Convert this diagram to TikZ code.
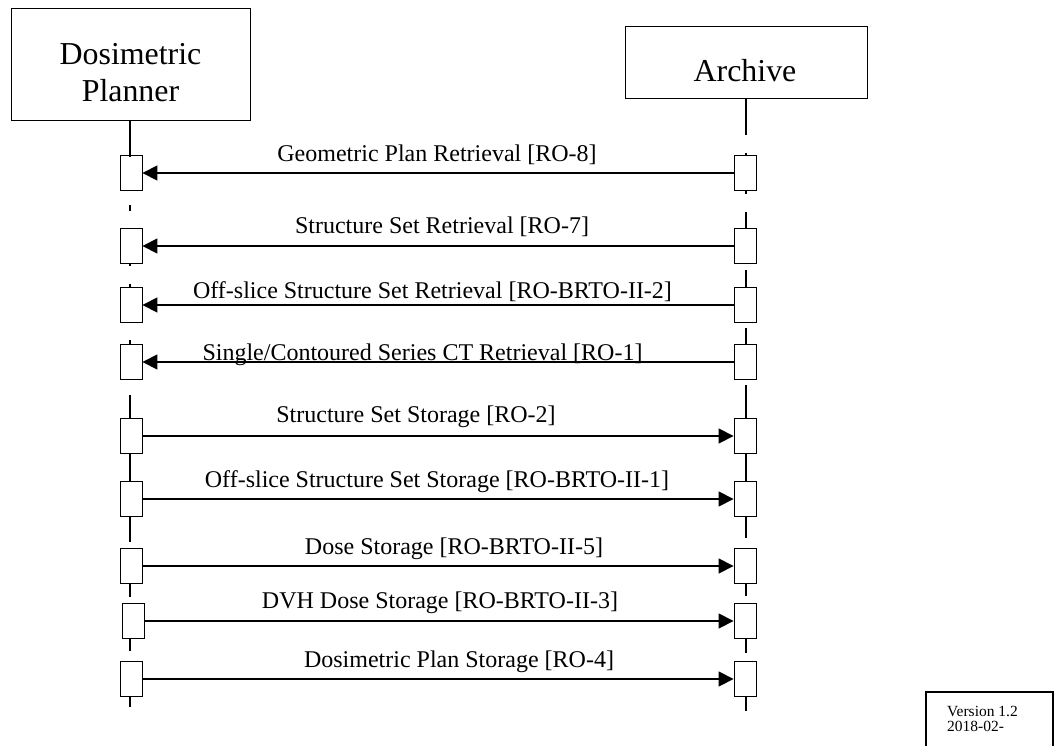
\documentclass[tikz,border=0pt]{standalone}
\usepackage{fontspec}
\setmainfont{Liberation Serif}
\usetikzlibrary{arrows.meta}
\begin{document}
\begin{tikzpicture}[x=1pt,y=-1pt,
  actor/.style={draw=black,line width=1pt,rectangle,inner sep=0pt,align=center},
  act/.style={draw=black,line width=0.9pt,fill=white,rectangle,minimum width=22pt,minimum height=35pt,inner sep=0pt},
  life/.style={line width=2pt},
  msg/.style={line width=1.6pt,-{Triangle[length=15pt,width=15pt]}},
  lbl/.style={anchor=base,inner sep=0pt,font=\fontsize{24}{26}\selectfont},
  big/.style={font=\fontsize{31.9}{37}\selectfont}
]
\useasboundingbox (0,0) rectangle (1055,745);
% actors
\node[actor,minimum width=239pt,minimum height=112pt] (P) at (130.5,64) {};
\node[big,anchor=base] (Pt1) at (130.5,64) {Dosimetric};
\node[big,anchor=base] (Pt2) at (130.5,101) {Planner};
\node[actor,minimum width=242pt,minimum height=72pt] (A) at (746,62) {};
\node[big,anchor=base] (At) at (745,81) {Archive};
% activation boxes
\foreach \i/\y in {1/173,2/246,3/305,4/362,5/436,6/499,7/566,9/679}{
  \node[act] (L\i) at (131,\y) {};
  \node[act] (R\i) at (745,\y) {};
}
\node[act] (L8) at (133,621) {};
\node[act] (R8) at (745,621) {};
% lifelines left
\draw[life] (P.south -| 130,0) -- (130,157);
\draw[life] (130,205) -- (130,211);
\draw[life] (130,263) -- (130,266);
\draw[life] (130,284) -- (130,287);
\draw[life] (130,340) -- (130,344.5);
\draw[life] (130,395) -- (130,418.5);
\draw[life] (130,453.5) -- (130,481.5);
\draw[life] (130,516.5) -- (130,542);
\draw[life] (130,583.5) -- (130,597);
\draw[life] (130,638.5) -- (130,651);
\draw[life] (130,696.5) -- (130,707);
% lifelines right
\draw[life] (746,98) -- (746,135);
\draw[life] (746,153) -- (746,155.5);
\draw[life] (746,190.5) -- (746,194);
\draw[life] (746,212) -- (746,228.5);
\draw[life] (746,270) -- (746,287.5);
\draw[life] (746,328) -- (746,344.5);
\draw[life] (746,385) -- (746,418.5);
\draw[life] (746,453.5) -- (746,481.5);
\draw[life] (746,516.5) -- (746,538);
\draw[life] (746,583.5) -- (746,596);
\draw[life] (746,638.5) -- (746,653);
\draw[life] (746,696.5) -- (746,711);
% messages
\foreach \i in {1,2,3,4}{ \draw[msg] (R\i.west) -- (L\i.east); }
\foreach \i in {5,6,7,8,9}{ \draw[msg] (L\i.east) -- (R\i.west); }
% labels
\node[lbl] (m1) at (437,161) {Geometric Plan Retrieval [RO-8]};
\node[lbl] (m2) at (442,233) {Structure Set Retrieval [RO-7]};
\node[lbl] (m3) at (432.5,298) {Off-slice Structure Set Retrieval [RO-BRTO-II-2]};
\node[lbl] (m4) at (422.5,360) {Single/Contoured Series CT Retrieval [RO-1]};
\node[lbl] (m5) at (416,422) {Structure Set Storage [RO-2]};
\node[lbl] (m6) at (437,487) {Off-slice Structure Set Storage [RO-BRTO-II-1]};
\node[lbl] (m7) at (454,554) {Dose Storage [RO-BRTO-II-5]};
\node[lbl] (m8) at (440,608) {DVH Dose Storage [RO-BRTO-II-3]};
\node[lbl] (m9) at (459,667) {Dosimetric Plan Storage [RO-4]};
% version box
\draw[line width=1.5pt] (926,760) -- (926,692) -- (1053,692) -- (1053,760);
\node[anchor=base west,inner sep=0pt,font=\fontsize{15.5}{15}\selectfont] (v1) at (947,716) {Version 1.2};
\node[anchor=base west,inner sep=0pt,font=\fontsize{15.5}{15}\selectfont] (v2) at (947,731) {2018-02-};
\end{tikzpicture}
\end{document}
